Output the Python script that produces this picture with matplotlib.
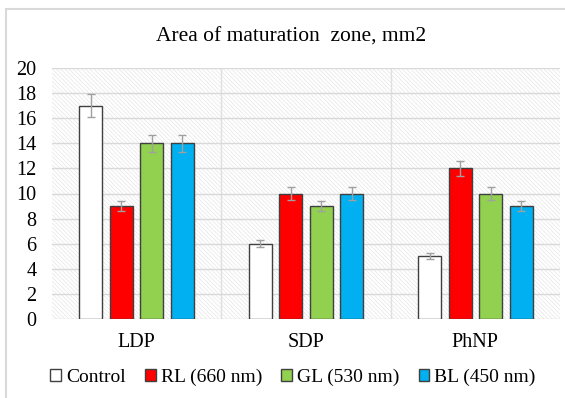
import matplotlib.pyplot as plt
import numpy as np
from matplotlib.patches import Rectangle

plt.rcParams['font.family'] = ['Liberation Serif', 'DejaVu Serif']
plt.rcParams['hatch.color'] = '#e6e6e6'
plt.rcParams['hatch.linewidth'] = 0.5

groups = ['LDP', 'SDP', 'PhNP']
series = ['Control', 'RL (660 nm)', 'GL (530 nm)', 'BL (450 nm)']
values = [
    [17, 6, 5],
    [9, 10, 12],
    [14, 9, 10],
    [14, 10, 9],
]
errors = [
    [0.9, 0.3, 0.25],
    [0.4, 0.5, 0.6],
    [0.7, 0.4, 0.5],
    [0.7, 0.5, 0.4],
]
colors = ['white', '#ff0000', '#92d050', '#00b0f0']

fig = plt.figure(figsize=(5.65, 3.98), dpi=100)
ax = fig.add_axes([52 / 565, 1 - 319 / 398, 508 / 565, 251 / 398])

# fine hatched plot background
ax.add_patch(Rectangle((0, 0), 1, 1, transform=ax.transAxes, facecolor='white',
                       hatch='\\' * 8, edgecolor='#e6e6e6', linewidth=0, zorder=0))

x = np.arange(len(groups))
step = 0.18
width = 0.136
for i, (s, c) in enumerate(zip(series, colors)):
    pos = x + (i - 1.5) * step
    ax.bar(pos, values[i], width, color=c, edgecolor='#404040', linewidth=1,
           label=s, zorder=3)
    ax.errorbar(pos, values[i], yerr=errors[i], fmt='none', ecolor='#a0a0a0',
                elinewidth=1, capsize=3, capthick=1, zorder=4)

ax.set_xlim(-0.5, 2.5)
ax.set_ylim(0, 20)
ax.set_yticks(range(0, 21, 2))
ax.set_xticks(x)
ax.set_xticklabels(groups)
ax.set_xticks([0.5, 1.5], minor=True)
ax.tick_params(axis='both', which='both', length=0, labelsize=14.5)
ax.tick_params(axis='y', pad=11)
ax.tick_params(axis='x', pad=10)
ax.grid(axis='y', color='#d9d9d9', linewidth=1, zorder=1)
ax.grid(axis='x', which='minor', color='#e0e0e0', linewidth=1, zorder=1)
ax.set_axisbelow(True)
for sp in ax.spines.values():
    sp.set_visible(False)

fig.text(291 / 565, 1 - 37 / 398, 'Area of maturation  zone, mm2', ha='center',
         va='center', fontsize=15.5)

leg = ax.legend(loc='center', bbox_to_anchor=((293 - 52) / 508, (377 - 319) / -251),
                ncol=4, frameon=False, fontsize=14, handlelength=0.55,
                handleheight=0.55, handletextpad=0.25, columnspacing=1.0)

fig.add_artist(Rectangle((6 / 565, -0.05), 0.99 + 0.05, 1 - 9 / 398 + 0.05,
                         transform=fig.transFigure, fill=False,
                         edgecolor='#d9d9d9', linewidth=1.5))

fig.savefig('out.png', dpi=100)
